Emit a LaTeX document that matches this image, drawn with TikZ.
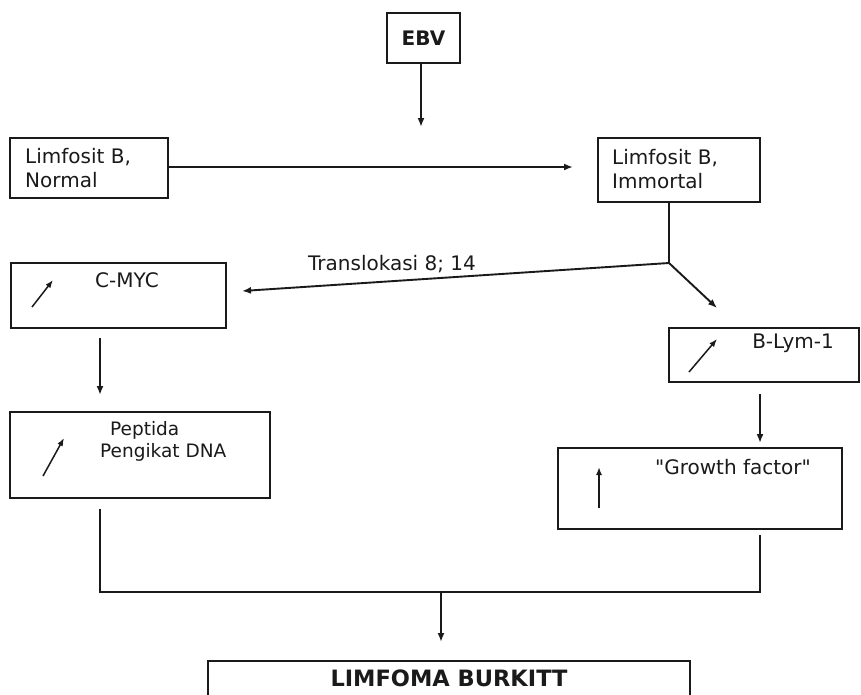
\documentclass[tikz,border=0pt]{standalone}
\usepackage{fontspec}
\setmainfont{DejaVu Sans}[Ligatures=TeXOff]
\usetikzlibrary{arrows.meta}
\definecolor{ink}{HTML}{1A1A1A}
\tikzset{
  box/.style={draw=ink, line width=2pt, inner sep=0pt, fill=white},
  txt/.style={text=ink, inner sep=0pt, font=\fontsize{20}{24}\selectfont},
  btxt/.style={text=ink, inner sep=0pt, font=\fontsize{20}{24}\selectfont\bfseries},
  conn/.style={draw=ink, line width=1.9pt},
  arr/.style={conn, -{Latex[length=9pt,width=7pt]}},
  mini/.style={draw=ink, line width=1.5pt, -{Latex[length=8pt,width=6pt]}}
}
\begin{document}
\begin{tikzpicture}[x=1pt,y=-1pt]
\useasboundingbox (0,0) rectangle (861,694);
% boxes
\node[box, minimum width=73, minimum height=50] (ebv) at (423.5,38) {};
\node[btxt] (ebvt) at (423.5,38) {EBV};
\node[box, minimum width=158, minimum height=60] (normal) at (89,168) {};
\node[txt, anchor=west, align=left] (normalt) at (25,168) {Limfosit B,\\Normal};
\node[box, minimum width=162, minimum height=64] (immortal) at (679,170) {};
\node[txt, anchor=west, align=left] (immortalt) at (612,169) {Limfosit B,\\Immortal};
\node[box, minimum width=215, minimum height=65] (cmyc) at (118,295.5) {};
\node[txt] (cmyct) at (127,280) {C-MYC};
\node[box, minimum width=190, minimum height=54] (blym) at (764,355) {};
\node[txt] (blymt) at (793,343) {B-Lym-1};
\node[box, minimum width=260, minimum height=86] (peptida) at (140,455) {};
\node[txt, anchor=west, align=left, font=\fontsize{18.5}{22}\selectfont] (peptidat) at (100,441) {\hspace*{10pt}Peptida\\Pengikat DNA};
\node[box, minimum width=284, minimum height=81] (growth) at (700,488.5) {};
\node[txt] (growtht) at (733,467) {"Growth factor"};
\node[box, minimum width=482, minimum height=60, anchor=north] (burkitt) at (449,660) {};
\node[btxt, font=\fontsize{22.5}{26}\selectfont\bfseries] (burkittt) at (449,678) {LIMFOMA BURKITT};
% mini arrows
\coordinate (m1a) at (32,307); \coordinate (m1b) at (53,280);
\draw[mini] (m1a) -- (m1b);
\coordinate (m2a) at (43,476); \coordinate (m2b) at (64,438);
\draw[mini] (m2a) -- (m2b);
\coordinate (m3a) at (689,372); \coordinate (m3b) at (717,339);
\draw[mini] (m3a) -- (m3b);
\coordinate (m4a) at (599,508); \coordinate (m4b) at (599,467);
\draw[mini] (m4a) -- (m4b);
% connectors
\coordinate (ebvend) at (421,127);
\draw[arr] (ebv.south -| ebvend) -- (ebvend);
\coordinate (immend) at (573,167);
\draw[arr] (normal.east |- immend) -- (immend);
\coordinate (split) at (669,263);
\draw[conn] (immortal.south -| split) -- (split);
\coordinate (cmycend) at (242,291);
\draw[arr] (split) -- (cmycend);
\node[txt] (transl) at (392,264) {Translokasi 8; 14};
\coordinate (blymend) at (717,308);
\draw[arr] (split) -- (blymend);
\coordinate (pepend) at (100,395);
\draw[arr] (100,338) -- (pepend);
\coordinate (growend) at (760,443);
\draw[arr] (760,394) -- (growend);
\coordinate (jl) at (100,592); \coordinate (jr) at (760,592);
\draw[conn] (100,509) -- (jl) -- (jr) -- (760,535);
\coordinate (jm) at (441,592); \coordinate (burend) at (441,642);
\draw[arr] (jm) -- (burend);
\end{tikzpicture}
\end{document}
